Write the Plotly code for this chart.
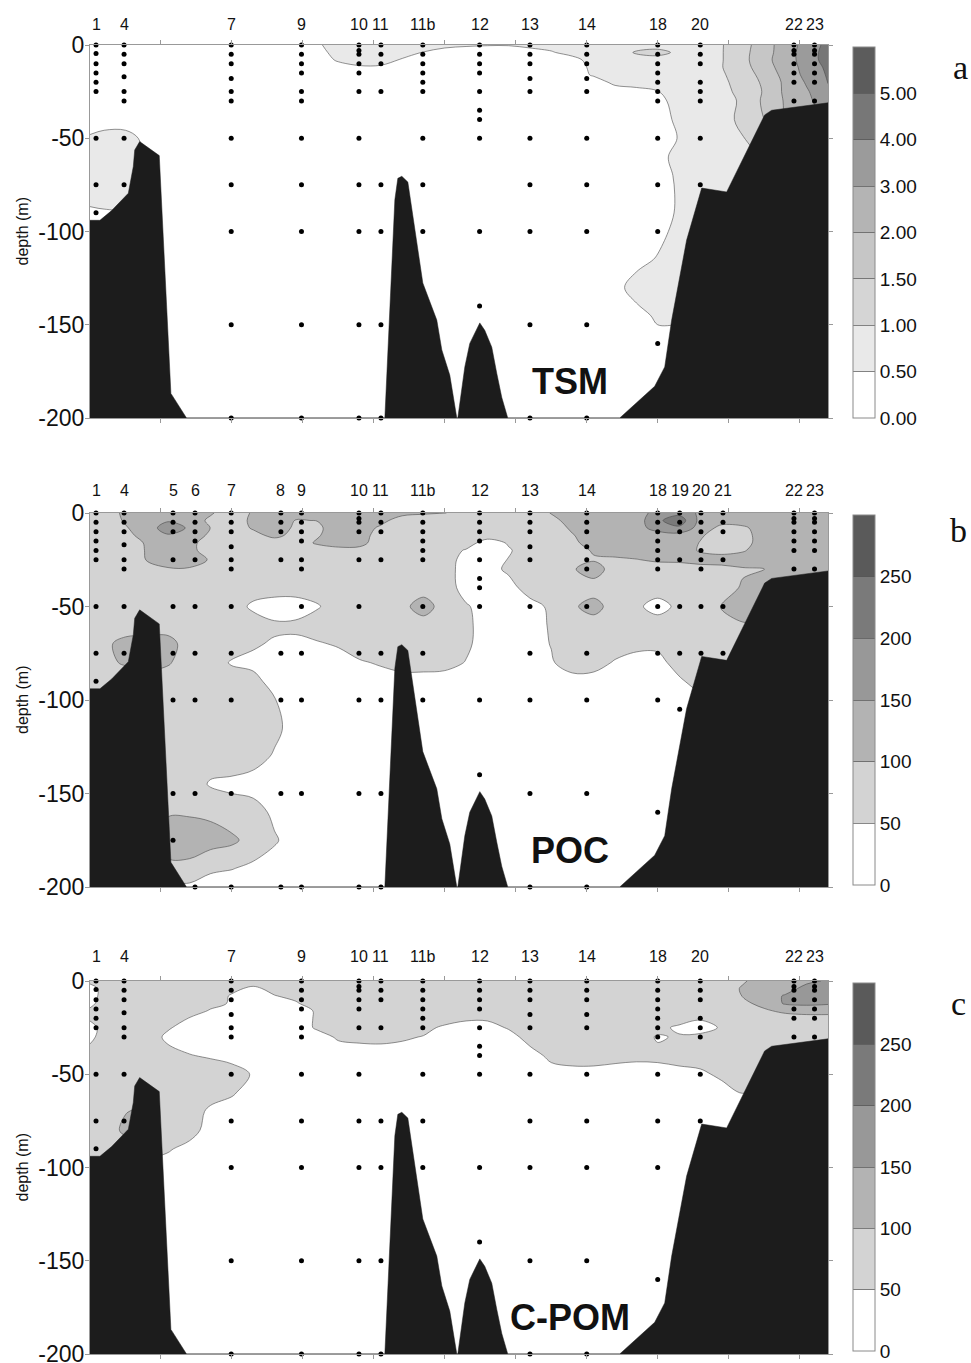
import numpy as np
import plotly.graph_objects as go

W, H = 971, 1363

# ---------------- grid on which the sections were read (km along section, depth m) ----------------
grid_km = [0, 2, 5, 8, 11, 14, 17, 20, 23, 26, 29, 32, 35, 38, 41, 44, 47, 50, 53, 56, 59,
           62, 65, 68, 71, 74, 77, 80, 83, 86, 89, 92, 95, 98, 101, 104]
grid_depth = [0, -4, -8, -12, -16, -20, -25, -30, -40, -50, -60, -70, -80, -90, -100,
              -115, -130, -145, -160, -175, -190, -200]

# ---------------- bottom profile ----------------
bottom_km = [0, 1.4, 3.05, 5.4, 6.1, 6.3, 7.0, 9.76, 11.4, 13.6,
             41.55, 42.11, 42.54, 42.96, 43.38, 43.94, 44.79, 45.77, 46.9, 48.87, 49.58, 50.7, 51.69,
             51.83, 52.82, 53.52, 54.93, 55.63, 56.62, 57.32, 58.03, 58.87,
             74.65, 79.58, 80.99, 81.97, 84.08, 86.2, 89.72, 95.07, 96.06, 104]
bottom_depth = [-94, -94, -88.8, -79.5, -65.2, -56.3, -51.8, -59.3, -186.8, -200,
                -200, -154, -119, -83, -71.5, -70.4, -73.5, -97.6, -127.6, -147.5, -163.5, -177, -200,
                -200, -172.6, -160, -149, -153, -162, -176, -189, -200,
                -200, -183, -172.6, -147.5, -104.6, -76.7, -78.8, -37.5, -35, -31]

# ---------------- contour levels / colour bars ----------------
tsm_levels = [0, 0.5, 1.0, 1.5, 2.0, 3.0, 4.0, 5.0, 6.0]
tsm_tick_text = ["0.00", "0.50", "1.00", "1.50", "2.00", "3.00", "4.00", "5.00"]
tsm_colors = ["#ffffff", "#e9e9e9", "#d5d5d5", "#c6c6c6", "#b4b4b4", "#9b9b9b", "#777777", "#5c5c5c"]

poc_levels = [0, 50, 100, 150, 200, 250, 300]
poc_tick_text = ["0", "50", "100", "150", "200", "250"]
poc_colors = ["#ffffff", "#d3d3d3", "#b3b3b3", "#989898", "#7a7a7a", "#5a5a5a"]

# ---------------- stations ----------------
stations_ac = ["1", "4", "7", "9", "10", "11", "11b", "12", "13", "14", "18", "20", "22", "23"]
km_ac = [0.85, 4.8, 19.9, 29.8, 37.9, 41.0, 46.9, 54.9, 62.0, 70.0, 80.0, 86.0, 99.2, 102.1]
depths_ac = [
    [0, -4.5, -10, -15, -20, -25, -50, -75, -90],
    [0, -5, -10, -17, -25, -30, -50, -75],
    [0, -5, -10, -18, -25, -30, -50, -75, -100, -150, -200],
    [0, -5, -10, -15, -25, -30, -50, -75, -100, -150, -200],
    [0, -3, -5, -10, -15, -25, -50, -75, -100, -150, -200],
    [0, -5, -10, -25, -75, -100, -150, -200],
    [0, -5, -10, -15, -20, -25, -50, -75, -100],
    [0, -5, -10, -15, -25, -35, -40, -50, -100, -140],
    [0, -5, -10, -18, -25, -50, -75, -100, -150, -200],
    [0, -5, -10, -18, -25, -50, -75, -100, -150, -200],
    [0, -5, -10, -15, -20, -25, -30, -50, -75, -100, -160],
    [0, -5, -10, -20, -25, -30, -50, -75],
    [0, -3, -5, -10, -15, -20, -30],
    [0, -3, -5, -10, -15, -20, -30],
]
stations_b = ["1", "4", "5", "6", "7", "8", "9", "10", "11", "11b", "12", "13", "14",
              "18", "19", "20", "21", "22", "23"]
km_b = [0.85, 4.8, 11.7, 14.8, 19.9, 26.9, 29.8, 37.9, 41.0, 46.9, 54.9, 62.0, 70.0,
        80.0, 83.1, 86.1, 89.2, 99.2, 102.1]
depths_b = [
    [0, -5, -10, -15, -20, -25, -50, -75, -90],
    [0, -5, -10, -17, -25, -30, -50, -75],
    [0, -5, -10, -25, -50, -75, -100, -150, -175],
    [0, -5, -10, -15, -25, -50, -75, -100, -150, -200],
    [0, -5, -10, -18, -25, -30, -50, -75, -100, -150, -200],
    [0, -5, -10, -25, -75, -100, -150, -200],
    [0, -5, -10, -15, -25, -30, -50, -75, -100, -150, -200],
    [0, -3, -5, -10, -25, -50, -75, -100, -150, -200],
    [0, -5, -10, -25, -75, -100, -150, -200],
    [0, -5, -10, -15, -20, -25, -50, -75, -100],
    [0, -5, -10, -15, -25, -35, -40, -50, -100, -140],
    [0, -5, -10, -18, -25, -50, -75, -100, -150, -200],
    [0, -5, -10, -18, -25, -30, -50, -75, -100, -150, -200],
    [0, -5, -10, -15, -20, -25, -30, -50, -75, -100, -160],
    [0, -5, -10, -25, -50, -75, -105],
    [0, -5, -10, -20, -25, -30, -50, -75],
    [0, -5, -10, -25, -50, -75],
    [0, -3, -5, -10, -15, -20, -30],
    [0, -3, -5, -10, -15, -20, -30],
]

# ---------------- TSM (mg/l) read on the grid ----------------
tsm_z = [
    [.3]*11 + [.4, .8, .8, .8, .75, .7, .6, .55, .52, .52, .6, .7, .75, .75, .75, .8, .8, .8, .8, .97, 1.3, 1.8, 2.45, 3.4, 4.3],
    [.3]*12 + [.7, .8, .8, .7, .48, .35, .3, .3, .3, .35, .45, .7, .75, .75, 1.05, 1.15, .9, .8, .97, 1.35, 1.8, 2.5, 3.5, 4.4],
    [.3]*12 + [.55, .75, .7, .45] + [.3]*8 + [.75, .75, .8, .8, .8, .8, .97, 1.35, 1.85, 2.5, 3.5, 4.4],
    [.3]*12 + [.35, .42, .42] + [.3]*9 + [.6, .75, .75, .8, .8, .8, .98, 1.3, 1.8, 2.4, 3.4, 4.2],
    [.3]*24 + [.55, .75, .75, .8, .8, .8, .95, 1.2, 1.7, 2.3, 3.3, 4.1],
    [.3]*25 + [.6, .75, .8, .8, .8, .92, 1.15, 1.6, 2.2, 3.1, 4.05],
    [.3]*27 + [.48, .75, .8, .9, 1.1, 1.55, 2.2, 2.9, 3.7],
    [.3]*27 + [.35, .7, .8, .88, 1.05, 1.6, 2.1, 2.8, 3.5],
    [.3]*28 + [.6, .75, .85, 1.1, 1.5, 2.05, 2.6, 3.2],
    [.55, .65, .65, .4] + [.3]*24 + [.52, .7, .8, .98, 1.3, 1.8, 2.4, 3.05],
    [.75, .75, .75, .45] + [.3]*24 + [.7, .75, .8, .9, 1.02, 1.3, 1.8, 2.4],
    [.75, .75, .75, .45] + [.3]*24 + [.58, .75, .75, .8, .8, .8, .8, .8],
    [.7, .7, .7, .45] + [.3]*24 + [.55] + [.75]*7,
    [.4, .45, .45, .45] + [.3]*24 + [.56] + [.75]*7,
    [.4]*4 + [.3]*24 + [.7] + [.75]*7,
    [.3]*27 + [.55, .75] + [.75]*7,
    [.3]*26 + [.75, .75, .75] + [.75]*7,
    [.3]*27 + [.6, .6] + [.6]*7,
    [.3]*36,
    [.3]*36,
    [.3]*36,
    [.3]*36,
]

# ---------------- POC read on the grid ----------------
poc_z = [
    [75, 75, 110, 125, 130, 125, 105, 75, 105, 125, 115, 120, 125, 125, 125, 115, 105, 102, 75, 75, 75, 75, 102, 125, 125, 125, 125, 170, 185, 140] + [125]*6,
    [75, 75, 105, 140, 145, 125, 91, 75, 110, 125, 98, 101, 125, 125, 115] + [75]*7 + [85, 120, 125, 125, 125, 190, 230, 135, 120] + [125]*5,
    [75, 75, 96, 125, 175, 144, 99, 75, 105, 125, 92, 90, 125, 125, 91] + [75]*8 + [108, 125, 125, 125, 175, 190, 130, 85, 90] + [125]*4,
    [75, 75, 85, 120, 145, 130, 90, 75, 85, 112, 85, 95, 125, 120, 80] + [75]*8 + [97, 125, 125, 125, 120, 130, 105, 80, 80] + [125]*4,
    [75, 75, 75, 105, 125, 115, 75, 75, 75, 75, 75, 106, 125, 115, 75] + [75]*4 + [25, 55, 75, 75, 90, 120, 125, 125, 125, 125, 98, 75, 80] + [125]*4,
    [75, 75, 75, 103, 125, 115, 75, 75, 75, 75, 75, 75, 80, 85, 75] + [75]*3 + [45, 25, 45, 75, 75, 80, 105, 125, 125, 125, 125, 95, 85, 95] + [125]*4,
    [75, 75, 75, 102, 125, 125, 95, 75] + [75]*10 + [30, 30, 52, 75, 75, 80, 95, 90, 98, 108, 110, 120, 120, 125, 125, 125, 125, 125],
    [75, 75, 75, 80, 95, 95, 75, 75] + [75]*9 + [70, 30, 30, 60, 75, 75, 95, 125, 75, 75, 75, 75, 80, 85, 95, 98, 125, 125, 125],
    [75]*18 + [30, 30, 30, 75, 75, 75, 75, 75, 75, 75, 75, 75, 80, 105, 125, 125, 125, 125],
    [75]*8 + [40, 25, 25, 45, 75, 75, 75, 85, 125, 75, 55, 30, 30, 30, 60, 92, 120, 75, 60, 30, 62, 75, 102, 125, 125, 125, 125, 125],
    [75]*9 + [58, 60] + [75]*7 + [60, 30, 30, 30, 55] + [75]*7 + [90, 95, 95, 95, 95, 95],
    [75, 90, 115, 120, 120, 75, 75, 75, 55, 45, 40, 45, 55, 75, 75, 75, 75, 75, 58, 30, 30, 30, 52, 75, 75, 75, 65, 65] + [75]*8,
    [75, 90, 105, 120, 105, 75, 75, 45, 40, 30, 30, 30, 30, 45, 55, 70, 70, 65, 48, 30, 30, 30, 45, 75, 70, 45, 30, 30] + [75]*8,
    [75]*8 + [62, 35] + [30]*18 + [40] + [75]*7,
    [75]*9 + [52] + [30]*26,
    [75]*9 + [62] + [30]*26,
    [75]*8 + [70, 45] + [30]*26,
    [75]*6 + [45, 40, 30, 30] + [30]*26,
    [75, 75, 75, 75, 95, 95, 90, 70, 70, 40] + [30]*26,
    [75, 75, 75, 75, 125, 125, 120, 110, 80, 55] + [30]*26,
    [75, 75, 75, 75, 87, 87, 60, 52, 40, 30] + [30]*26,
    [75, 75, 75, 75, 40, 40, 25, 25, 25, 30] + [30]*26,
]

# ---------------- C-POM read on the grid ----------------
cpom_z = [
    [70] + [75]*30 + [95, 120, 130, 140, 155],
    [20, 75, 75, 75, 75, 75, 75, 62, 40, 65] + [75]*21 + [105, 125, 130, 165, 170],
    [20, 75, 75, 75, 75, 75, 75, 45, 30, 48, 62] + [75]*20 + [102, 125, 155, 170, 170],
    [35, 75, 75, 75, 75, 75, 65, 45, 30, 30, 45] + [75]*20 + [85, 120, 155, 160, 155],
    [60, 75, 75, 75, 75, 75, 45, 30, 30, 30, 30, 55] + [75]*19 + [75, 90, 115, 120, 120],
    [60, 75, 75, 75, 75, 48, 30, 30, 30, 30, 30, 55] + [75]*5 + [70, 58, 58, 75] + [75]*8 + [55, 60, 75, 75, 70, 80, 80],
    [25, 75, 75, 75, 55, 30, 30, 30, 30, 30, 30, 55] + [75]*4 + [62, 42, 30, 30, 55] + [75]*6 + [65, 40, 30, 55] + [75]*5,
    [35, 75, 75, 75, 40, 30, 30, 30, 30, 30, 30, 35] + [55, 60, 62, 56, 48] + [30]*4 + [70] + [75]*5 + [45, 55, 62, 75] + [75]*5,
    [75, 75, 75, 75, 65, 52, 45] + [30]*15 + [62, 75, 75, 65, 60, 62, 75, 75, 75] + [75]*5,
    [75]*8 + [45] + [30]*20 + [40, 60, 75] + [75]*4,
    [75]*6 + [70, 55] + [30]*23 + [52] + [30]*4,
    [75, 75, 98, 110, 75, 75, 40] + [30]*29,
    [75, 75, 110, 110, 75, 70] + [30]*30,
    [75, 75, 75, 75, 55, 35] + [30]*30,
    [30]*36, [30]*36, [30]*36, [30]*36, [30]*36, [30]*36, [30]*36, [30]*36,
]


# ---------------- page-pixel helpers ----------------
def px(xp):
    return xp / W


def py(yp):
    return 1 - yp / H


panel_px = [(45, 418), (513, 887), (981, 1354)]
cbar_px = [(47, 418), (515, 885), (983, 1351)]
label_shift = [21, 23, 25]
letter_px = [(960, 67), (958, 530), (958, 1003)]

panels = [
    dict(name="TSM", letter="a", z=tsm_z, levels=tsm_levels, ticktext=tsm_tick_text,
         colors=tsm_colors, st=stations_ac, km=km_ac, dep=depths_ac),
    dict(name="POC", letter="b", z=poc_z, levels=poc_levels, ticktext=poc_tick_text,
         colors=poc_colors, st=stations_b, km=km_b, dep=depths_b),
    dict(name="C-POM", letter="c", z=cpom_z, levels=poc_levels, ticktext=poc_tick_text,
         colors=poc_colors, st=stations_ac, km=km_ac, dep=depths_ac),
]

FONT = "Liberation Sans, Arial, sans-serif"
fig = go.Figure()
annotations = []
layout = dict(width=W, height=H, autosize=False, margin=dict(l=0, r=0, t=0, b=0, pad=0),
              paper_bgcolor="white", plot_bgcolor="white", showlegend=False,
              font=dict(family=FONT, color="#111"))

for i, p in enumerate(panels):
    sx = "" if i == 0 else str(i + 1)
    xa, ya = "x" + sx, "y" + sx
    top, bot = panel_px[i]
    ydom = [py(bot), py(top)]

    levels = p["levels"]
    nb = len(levels) - 1
    zi = np.interp(np.array(p["z"], dtype=float), levels, np.arange(len(levels)))
    cscale = [[k / (nb - 1), c] for k, c in enumerate(p["colors"])]

    fig.add_trace(go.Contour(
        x=grid_km, y=grid_depth, z=zi, xaxis=xa, yaxis=ya,
        autocontour=False,
        contours=dict(start=1, end=nb - 1, size=1, coloring="fill", showlines=True),
        colorscale=cscale, showscale=False,
        line=dict(color="#4a4a4a", width=0.6, smoothing=1.0),
        hoverinfo="skip"))

    # sea bottom
    fig.add_trace(go.Scatter(
        x=bottom_km + [104, 0], y=bottom_depth + [-200, -200],
        xaxis=xa, yaxis=ya, mode="lines", fill="toself",
        fillcolor="#1c1c1c", line=dict(color="#1c1c1c", width=0.5),
        hoverinfo="skip"))

    # sampling points
    dx, dy = [], []
    for k, dd in zip(p["km"], p["dep"]):
        dx += [k] * len(dd)
        dy += dd
    fig.add_trace(go.Scatter(
        x=dx, y=dy, xaxis=xa, yaxis=ya, mode="markers",
        marker=dict(size=5, color="black"), cliponaxis=False, hoverinfo="skip"))

    # colour bar
    step = []
    for k, c in enumerate(p["colors"]):
        step += [[k / nb, c], [(k + 1) / nb, c]]
    cb0, cb1 = cbar_px[i]
    fig.add_trace(go.Scatter(
        x=[None], y=[None], xaxis=xa, yaxis=ya, mode="markers",
        marker=dict(size=0, color=[0], cmin=0, cmax=nb, colorscale=step, showscale=True,
                    colorbar=dict(
                        x=px(853), xanchor="left", xpad=0, ypad=0,
                        y=py((cb0 + cb1) / 2), yanchor="middle",
                        lenmode="pixels", len=cb1 - cb0,
                        thicknessmode="pixels", thickness=22,
                        outlinecolor="#8a8a8a", outlinewidth=1,
                        tickvals=list(range(nb)), ticktext=p["ticktext"],
                        ticks="inside", ticklen=22, tickcolor="#555", tickwidth=0.7,
                        ticklabeloverflow="allow",
                        tickfont=dict(size=19, family=FONT, color="#111"))),
        hoverinfo="skip"))

    layout["xaxis" + sx] = dict(domain=[px(90), px(828)], anchor=ya, range=[0, 104],
                                tickvals=list(range(10, 101, 10)), showticklabels=False,
                                ticks="outside", ticklen=4, tickcolor="#999",
                                showline=True, linecolor="#999", linewidth=1, mirror="ticks",
                                showgrid=False, zeroline=False, automargin=False)
    layout["yaxis" + sx] = dict(domain=ydom, anchor=xa, range=[-200, 0],
                                tickvals=[0, -50, -100, -150, -200],
                                ticktext=["0", "-50", "-100", "-150", "-200"],
                                tickfont=dict(size=23, family=FONT, color="#111"),
                                ticks="outside", ticklen=4, tickcolor="#999",
                                ticklabelstandoff=-4, ticklabeloverflow="allow",
                                showline=True, linecolor="#999", linewidth=1, mirror="ticks",
                                showgrid=False, zeroline=False, automargin=False)

    for name, k in zip(p["st"], p["km"]):
        annotations.append(dict(x=k, y=1, xref=xa, yref=ya + " domain", text=name,
                                showarrow=False, xanchor="center", yanchor="middle",
                                yshift=label_shift[i],
                                font=dict(size=16, family=FONT, color="#111")))
    annotations.append(dict(x=px(22), y=py((top + bot) / 2), xref="paper", yref="paper",
                            text="depth (m)", textangle=-90, showarrow=False,
                            xanchor="center", yanchor="middle",
                            font=dict(size=16, family=FONT, color="#111")))
    annotations.append(dict(x=67.6, y=-180.5, xref=xa, yref=ya, text=p["name"],
                            showarrow=False, xanchor="center", yanchor="middle",
                            font=dict(size=36, family=FONT, color="#111", weight="bold")))
    lx, ly = letter_px[i]
    annotations.append(dict(x=px(lx), y=py(ly), xref="paper", yref="paper",
                            text=p["letter"], showarrow=False,
                            xanchor="center", yanchor="middle",
                            font=dict(size=34, family="Liberation Serif, Times New Roman, serif",
                                      color="#111")))

layout["annotations"] = annotations
fig.update_layout(**layout)
fig.write_html(
    "out.html",
    config={"displayModeBar": False, "staticPlot": True},
    post_script="document.body.style.margin='0px';"
                "document.documentElement.style.overflow='hidden';"
                "document.body.style.overflow='hidden';")
